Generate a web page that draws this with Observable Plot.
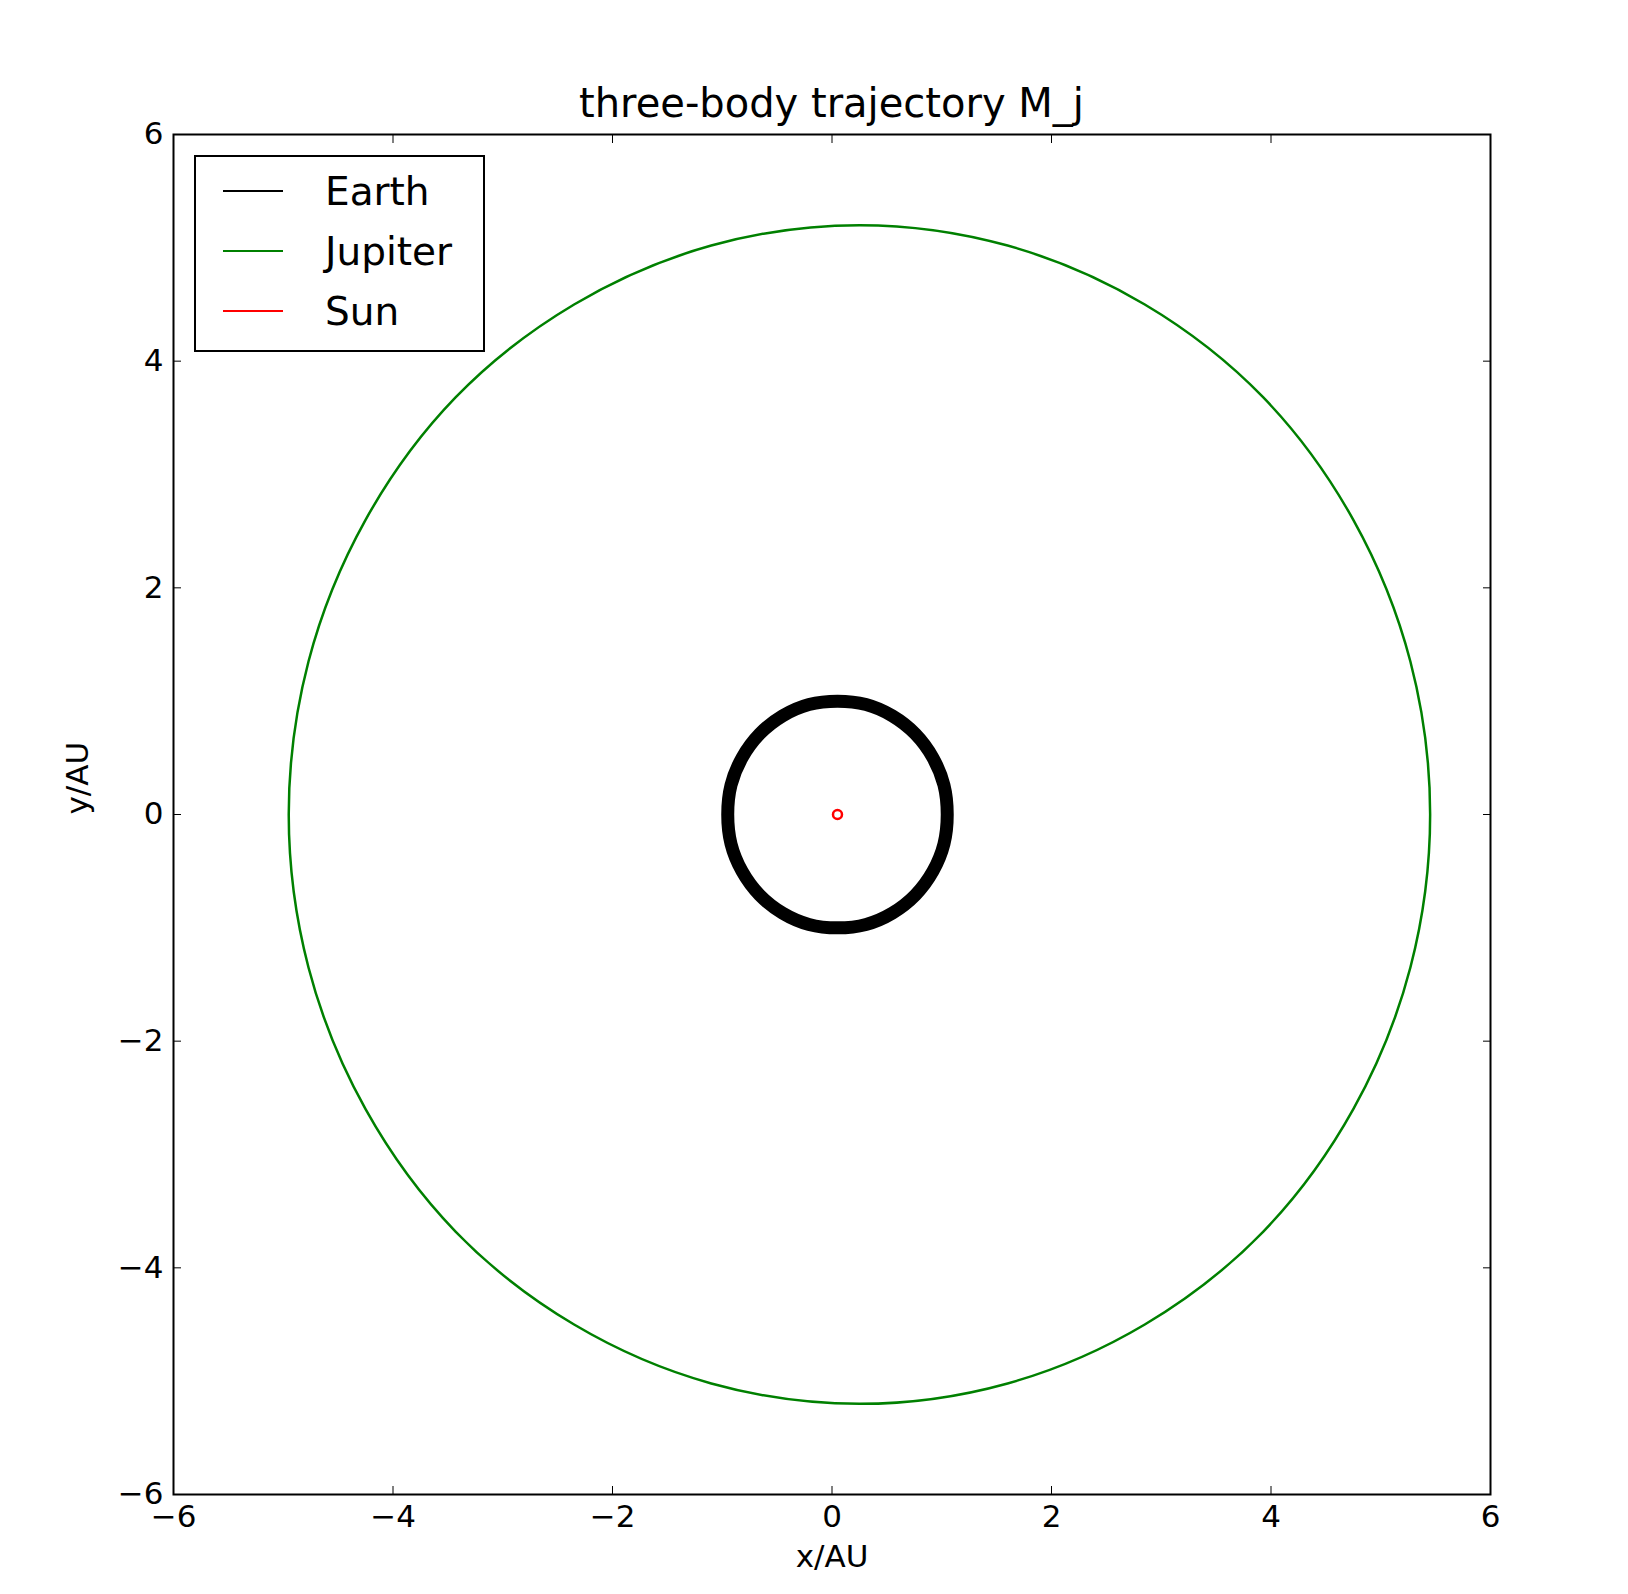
<!DOCTYPE html>
<html><head><meta charset="utf-8">
<script src="https://cdn.jsdelivr.net/npm/d3@7"></script>
<script src="https://cdn.jsdelivr.net/npm/@observablehq/plot@0.6"></script>
<style>
body{margin:0;background:#fff;font-family:"DejaVu Sans",sans-serif;}
#wrap{position:relative;width:1628px;height:1594px;}
#title{position:absolute;top:80px;left:173px;width:1317px;text-align:center;font-size:40px;}
#legend{position:absolute;left:194px;top:155px;width:287px;height:193px;border:2px solid #000;background:#fff;font-size:39px;}
.row{position:absolute;left:27px;height:40px;display:flex;align-items:center;}
.row span.ln{display:inline-block;width:60px;height:2px;margin-right:42px;}
</style></head><body>
<div id="wrap"><div id="chart"></div><div id="title">three-body trajectory M_j</div><div id="legend"></div></div>
<script>
// orbit samples (AU), every 15 degrees
const jupiterX = [5.45, 5.27, 4.75, 3.93, 2.85, 1.60, 0.25, -1.10, -2.35, -3.43, -4.25, -4.77,
                  -4.95, -4.77, -4.25, -3.43, -2.35, -1.10, 0.25, 1.60, 2.85, 3.93, 4.75, 5.27];
const jupiterY = [0, 1.35, 2.60, 3.68, 4.50, 5.02, 5.20, 5.02, 4.50, 3.68, 2.60, 1.35,
                  0, -1.35, -2.60, -3.68, -4.50, -5.02, -5.20, -5.02, -4.50, -3.68, -2.60, -1.35];
const earthX = [1.05, 1.02, 0.92, 0.76, 0.55, 0.31, 0.05, -0.21, -0.45, -0.66, -0.82, -0.92,
                -0.95, -0.92, -0.82, -0.66, -0.45, -0.21, 0.05, 0.31, 0.55, 0.76, 0.92, 1.02];
const earthY = [0, 0.26, 0.50, 0.71, 0.87, 0.97, 1.0, 0.97, 0.87, 0.71, 0.50, 0.26,
                0, -0.26, -0.50, -0.71, -0.87, -0.97, -1.0, -0.97, -0.87, -0.71, -0.50, -0.26];
const sunX = [0.05];
const sunY = [0.0];
const xTicks = [-6, -4, -2, 0, 2, 4, 6];
const yTicks = [-6, -4, -2, 0, 2, 4, 6];
const series = [
  {name: "Earth", color: "#000000"},
  {name: "Jupiter", color: "#008000"},
  {name: "Sun", color: "#ff0000"}
];

const pts = (xs, ys) => xs.map((x, i) => ({x, y: ys[i]}));
const fmt = d => d < 0 ? "\u2212" + Math.abs(d) : String(d);
const blank = () => "";

const chart = Plot.plot({
  width: 1628, height: 1594,
  marginLeft: 173, marginRight: 138, marginTop: 134, marginBottom: 100,
  style: {fontFamily: "DejaVu Sans", fontSize: "31px", color: "#000"},
  x: {domain: [-6, 6]},
  y: {domain: [-6, 6]},
  marks: [
    Plot.line(pts(jupiterX, jupiterY), {x: "x", y: "y", curve: "cardinal-closed", stroke: "#008000", strokeWidth: 2.5}),
    Plot.line(pts(earthX, earthY), {x: "x", y: "y", curve: "cardinal-closed", stroke: "#000", strokeWidth: 13}),
    Plot.dot(pts(sunX, sunY), {x: "x", y: "y", r: 4.5, stroke: "red", strokeWidth: 2.5, fill: "none"}),
    Plot.axisX({ticks: xTicks, tickFormat: fmt, tickSize: -8, tickPadding: 18, label: null}),
    Plot.axisX({ticks: xTicks, anchor: "top", tickSize: -8, tickFormat: blank, label: null}),
    Plot.axisY({ticks: yTicks, tickFormat: fmt, tickSize: -8, tickPadding: 18, label: null}),
    Plot.axisY({ticks: yTicks, anchor: "right", tickSize: -8, tickFormat: blank, label: null}),
    Plot.frame({stroke: "#000", strokeWidth: 2}),
    Plot.text(["x/AU"], {frameAnchor: "bottom", dy: 72, fontSize: 31}),
    Plot.text(["y/AU"], {frameAnchor: "left", dx: -95, rotate: -90, fontSize: 31})
  ]
});
document.getElementById("chart").append(chart);

const leg = document.getElementById("legend");
series.forEach((s, i) => {
  const r = document.createElement("div");
  r.className = "row";
  r.style.top = (14 + i * 60) + "px";
  r.innerHTML = `<span class="ln" style="background:${s.color}"></span><span>${s.name}</span>`;
  leg.append(r);
});
</script></body></html>
